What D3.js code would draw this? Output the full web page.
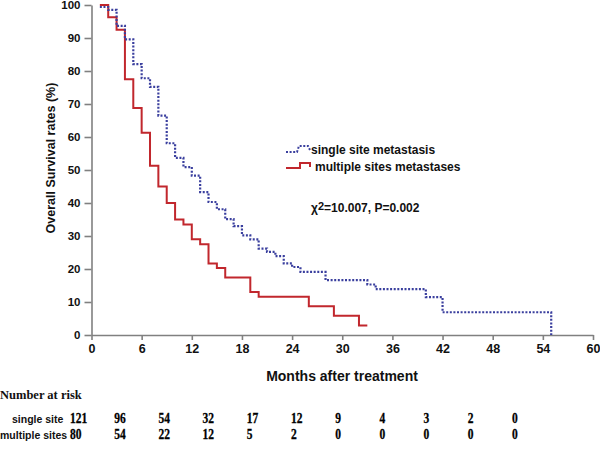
<!DOCTYPE html>
<html><head><meta charset="utf-8">
<script src="https://cdn.jsdelivr.net/npm/d3@7"></script>
<style>
html,body{margin:0;padding:0;background:#fff;}
svg{display:block;}
</style></head>
<body>
<svg id="chart" width="600" height="455"></svg>
<script>
// ---- data ----
const singleMonths = [1,2,3,4,5,6,7,8,9,10,11,12,13,14,15,16,17,18,19,20,21,22,23,24,25,28,33,34,40,42,55];
const singleSurv   = [99.4,98.5,93.7,89.6,82.1,77.8,75.2,66.5,58.1,53.7,50.9,48.3,43.3,40.3,38.1,35.1,33.0,30.2,29.0,26.2,25.2,23.9,21.7,20.6,19.1,16.6,15.3,13.9,11.5,6.9,0];
const multiMonths  = [1,2,3,4,5,6,7,8,9,10,11,12,13,14,15,16,19,20,26,29,32,33];
const multiSurv    = [100,96.3,92.5,77.5,68.8,61.3,51.3,45.0,40.0,35.0,33.5,29.0,27.5,21.7,20.3,17.4,13.0,11.6,8.7,5.8,2.9,2.9];
const xTicks = [0,6,12,18,24,30,36,42,48,54,60];
const yTicks = [0,10,20,30,40,50,60,70,80,90,100];
const riskTimes = ["0","6","12","18","24","30","36","42","48","54","60"];
const riskSingle = [121,96,54,32,17,12,9,4,3,2,0];
const riskMultiple = [80,54,22,12,5,2,0,0,0,0,0];
const seriesNames = ["single site metastasis","multiple sites metastases"];
const rowNames = ["single site","multiple sites"];
const statText = {chi:"χ", sup:"2", rest:"=10.007, P=0.002"};

// ---- chart ----
const svg = d3.select("#chart");
const axisColor = "#808080";
const blue = "#3a3f9e", red = "#c1272d";
const sans = "Arial, 'Liberation Sans', sans-serif";
const serif = "'Times New Roman', 'Liberation Serif', serif";

const x = d3.scaleLinear().domain([0,60]).range([91.5,593]);
const y = d3.scaleLinear().domain([0,100]).range([335,5]);

// axes
const gx = svg.append("g").attr("transform","translate(0,335)")
  .call(d3.axisBottom(x).tickValues(xTicks).tickSize(5).tickSizeOuter(0).tickPadding(4));
const gy = svg.append("g").attr("transform","translate(91.5,0)")
  .call(d3.axisLeft(y).tickValues(yTicks).tickSize(7).tickSizeOuter(0).tickPadding(4));
[gx,gy].forEach(g=>{
  g.select(".domain").attr("stroke",axisColor).attr("stroke-width",1.6);
  g.selectAll(".tick line").attr("stroke",axisColor).attr("stroke-width",1.6);
  g.selectAll(".tick text").attr("fill","#111").attr("font-family",sans).attr("font-weight","bold");
});
gx.selectAll(".tick text").attr("font-size","12.5px").attr("font-family","'Liberation Sans Narrow', 'Arial Narrow', " + sans);
gy.selectAll(".tick text").attr("font-size","11.5px");

// curves
const line = d3.line().curve(d3.curveStepAfter).x(d=>x(d[0])).y(d=>y(d[1]));
const singleData = singleMonths.map((m,i)=>[m,singleSurv[i]]);
const multiData = multiMonths.map((m,i)=>[m,multiSurv[i]]);
svg.append("path").datum(multiData).attr("d",line)
  .attr("fill","none").attr("stroke",red).attr("stroke-width",2);
svg.append("path").datum(singleData).attr("d",line)
  .attr("fill","none").attr("stroke",blue).attr("stroke-width",2.2).attr("stroke-dasharray","2,1.6");

// axis titles
svg.append("text").attr("x",342).attr("y",381).attr("text-anchor","middle")
  .attr("font-family",sans).attr("font-weight","bold").attr("font-size","14px").attr("fill","#111")
  .text("Months after treatment");
svg.append("text").attr("transform","translate(55,158) rotate(-90)").attr("text-anchor","middle")
  .attr("font-family",sans).attr("font-weight","bold").attr("font-size","12.5px").attr("fill","#111")
  .text("Overall Survival rates (%)");

// legend
const lg = svg.append("g");
const legendLine = d3.line();
lg.append("path").attr("d",legendLine([[286,152],[297,152],[299,146],[308,146],[310,150]]))
  .attr("fill","none").attr("stroke",blue).attr("stroke-width",2).attr("stroke-dasharray","2,1.6");
lg.append("path").attr("d",legendLine([[286,168],[300,168],[300,163],[310,163],[310,167]]))
  .attr("fill","none").attr("stroke",red).attr("stroke-width",2);
lg.append("text").attr("x",311).attr("y",154).text(seriesNames[0]);
lg.append("text").attr("x",315).attr("y",171).text(seriesNames[1]);
lg.selectAll("text").attr("font-family",sans).attr("font-weight","bold").attr("font-size","12px").attr("fill","#111");

// statistic
const st = svg.append("text").attr("x",311).attr("y",212)
  .attr("font-family",sans).attr("font-weight","bold").attr("font-size","12px").attr("fill","#111");
st.append("tspan").text(statText.chi);
st.append("tspan").attr("dy",-2).attr("font-size","11px").text(statText.sup);
st.append("tspan").attr("dy",2).text(statText.rest);

// number at risk
svg.append("text").attr("x",0).attr("y",399).attr("font-family",serif).attr("font-weight","bold")
  .attr("font-size","12.5px").attr("fill","#111").text("Number at risk");
const rx = d3.scalePoint().domain(riskTimes).range([70,512]);
const rows = [riskSingle, riskMultiple];
const rowY = [423, 439];
rows.forEach((vals,r)=>{
  svg.append("text").attr("x", r===0 ? 12 : 0).attr("y",rowY[r])
    .attr("font-family",sans).attr("font-weight","bold").attr("font-size","10.5px").attr("fill","#111")
    .text(rowNames[r]);
  svg.append("g").selectAll("text").data(vals).join("text")
    .attr("transform",(d,i)=>`translate(${rx(riskTimes[i])},${rowY[r]}) scale(0.82,1)`)
    .attr("font-family",serif).attr("font-weight","bold").attr("font-size","14px").attr("fill","#000")
    .attr("stroke","#000").attr("stroke-width",0.3)
    .text(d=>d);
});
</script>
</body></html>
